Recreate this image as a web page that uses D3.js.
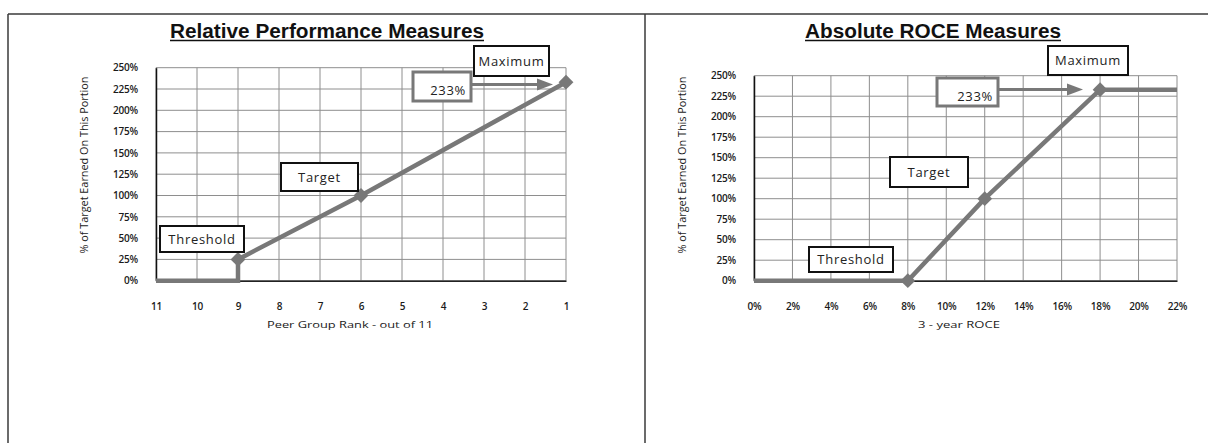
<!DOCTYPE html>
<html>
<head>
<meta charset="utf-8">
<script src="https://cdn.jsdelivr.net/npm/d3@7"></script>
<style>
  html, body { margin: 0; padding: 0; background: #fff; }
  svg { display: block; }
</style>
</head>
<body>
<svg id="chart" width="1208" height="443"></svg>
<script>
// Payout curves: % of target earned vs. performance outcome
const yTicks = [0, 25, 50, 75, 100, 125, 150, 175, 200, 225, 250];

// Relative performance: peer group rank (11 = worst, 1 = best)
const rankTicks = [11, 10, 9, 8, 7, 6, 5, 4, 3, 2, 1];
const relRank = [11, 9, 9, 6, 1];
const relPct = [0, 0, 25, 100, 233];
const relMarkerRank = [9, 6, 1];
const relMarkerPct = [25, 100, 233];

// Absolute ROCE: 3-year ROCE in percent
const roceTicks = [0, 2, 4, 6, 8, 10, 12, 14, 16, 18, 20, 22];
const roceVal = [0, 8, 12, 18, 22];
const rocePct = [0, 0, 100, 233, 233];
const roceMarkerVal = [8, 12, 18];
const roceMarkerPct = [0, 100, 233];

const maxLabel = "233%";

const svg = d3.select("#chart");
const LINE = "#787878";
const GRID = "#8e8e8e";
const TXT = "#1a1a1a";

// page frame
svg.append("line").attr("x1", 8).attr("x2", 1208).attr("y1", 14).attr("y2", 14)
  .attr("stroke", "#3a3a3a").attr("stroke-width", 1.5);
svg.append("line").attr("x1", 8).attr("x2", 8).attr("y1", 14).attr("y2", 443)
  .attr("stroke", "#3a3a3a").attr("stroke-width", 1.5);
svg.append("line").attr("x1", 645).attr("x2", 645).attr("y1", 14).attr("y2", 443)
  .attr("stroke", "#3a3a3a").attr("stroke-width", 1.5);

function panel(cfg) {
  const g = svg.append("g");
  const x = d3.scaleLinear().domain(cfg.xDomain).range(cfg.xRange);
  const y = d3.scaleLinear().domain([0, 250]).range(cfg.yRange);
  const [x0, x1] = cfg.xRange;
  const [yb, yt] = cfg.yRange;

  // title with underline
  g.append("text")
    .attr("x", (cfg.titleX[0] + cfg.titleX[1]) / 2).attr("y", 37.5)
    .attr("text-anchor", "middle")
    .attr("font-family", "'Liberation Sans Narrow', 'Liberation Sans', Arial, sans-serif")
    .attr("font-weight", "bold").attr("font-size", 20).attr("fill", "#111")
    .attr("textLength", cfg.titleX[1] - cfg.titleX[0])
    .attr("lengthAdjust", "spacingAndGlyphs")
    .text(cfg.title);
  g.append("line").attr("x1", cfg.titleX[0]).attr("x2", cfg.titleX[1])
    .attr("y1", 40.5).attr("y2", 40.5).attr("stroke", "#111").attr("stroke-width", 1.3);

  // grid
  g.append("g").selectAll("line.h").data(yTicks).join("line")
    .attr("x1", x0).attr("x2", x1)
    .attr("y1", d => y(d)).attr("y2", d => y(d))
    .attr("stroke", GRID).attr("stroke-width", 1);
  g.append("g").selectAll("line.v").data(cfg.xTicks).join("line")
    .attr("x1", d => x(d)).attr("x2", d => x(d))
    .attr("y1", yt).attr("y2", yb)
    .attr("stroke", GRID).attr("stroke-width", 1);

  // axes
  const yAxis = d3.axisLeft(y).tickValues(yTicks).tickSize(0).tickPadding(18)
    .tickFormat(d => d + "%");
  const ya = g.append("g").attr("transform", `translate(${x0},0)`).call(yAxis);
  ya.select(".domain").attr("stroke", "#111").attr("stroke-width", 1.5);
  ya.selectAll("text").attr("font-family", "'Open Sans', sans-serif")
    .attr("font-size", 10).attr("font-weight", 600).attr("letter-spacing", -0.2).attr("fill", TXT);

  const xAxis = d3.axisBottom(x).tickValues(cfg.xTicks).tickSize(0).tickPadding(22)
    .tickFormat(cfg.xFormat);
  const xa = g.append("g").attr("transform", `translate(0,${yb})`).call(xAxis);
  xa.select(".domain").attr("stroke", "#222").attr("stroke-width", 1.5);
  xa.selectAll("text").attr("font-family", "'Open Sans', sans-serif")
    .attr("font-size", 10).attr("font-weight", 600).attr("letter-spacing", -0.2).attr("fill", TXT);

  // axis titles
  g.append("text")
    .attr("transform", `translate(${cfg.yTitleX},165) rotate(-90)`)
    .attr("text-anchor", "middle").attr("dy", "0.35em")
    .attr("font-family", "'Open Sans', sans-serif").attr("font-size", 10).attr("fill", TXT)
    .attr("textLength", 177).attr("lengthAdjust", "spacingAndGlyphs")
    .text("% of Target Earned On This Portion");
  g.append("text")
    .attr("x", cfg.xTitle[0]).attr("y", 328).attr("text-anchor", "middle")
    .attr("font-family", "'Open Sans', sans-serif").attr("font-size", 9.5).attr("fill", TXT)
    .attr("textLength", cfg.xTitle[1]).attr("lengthAdjust", "spacingAndGlyphs")
    .text(cfg.xTitleText);

  // payout line
  const pts = cfg.lx.map((v, i) => [v, cfg.ly[i]]);
  g.append("path").datum(pts)
    .attr("d", d3.line().x(d => x(d[0])).y(d => y(d[1])))
    .attr("fill", "none").attr("stroke", LINE).attr("stroke-width", 4.5)
    .attr("stroke-linejoin", "miter");

  // diamond markers
  const mk = cfg.mx.map((v, i) => [v, cfg.my[i]]);
  g.append("g").selectAll("path").data(mk).join("path")
    .attr("transform", d => `translate(${x(d[0])},${y(d[1])}) rotate(45)`)
    .attr("d", d3.symbol(d3.symbolSquare, 110)())
    .attr("fill", LINE);

  // callout boxes
  function box(b, label, border, sw, anchor) {
    g.append("rect").attr("x", b[0]).attr("y", b[1])
      .attr("width", b[2] - b[0]).attr("height", b[3] - b[1])
      .attr("fill", "#fff").attr("stroke", border).attr("stroke-width", sw);
    const tx = anchor === "end" ? b[2] - 5 : (b[0] + b[2]) / 2;
    g.append("text").attr("x", tx).attr("y", (b[1] + b[3]) / 2 + (anchor === "end" ? 4 : 0))
      .attr("dy", "0.35em").attr("text-anchor", anchor || "middle")
      .attr("font-family", "'Open Sans', sans-serif").attr("font-size", 13)
      .attr("letter-spacing", 0.7).attr("fill", "#222").text(label);
  }

  // arrow from the value box to the maximum point
  const ay = cfg.arrowY;
  g.append("line").attr("x1", cfg.valBox[2]).attr("x2", cfg.arrowTip - 14)
    .attr("y1", ay).attr("y2", ay).attr("stroke", LINE).attr("stroke-width", 3);
  g.append("path")
    .attr("d", `M${cfg.arrowTip},${ay} L${cfg.arrowTip - 16},${ay - 6} L${cfg.arrowTip - 16},${ay + 6} Z`)
    .attr("fill", LINE);

  box(cfg.maxBox, "Maximum", "#111", 2);
  box(cfg.valBox, maxLabel, LINE, 3, "end");
  box(cfg.tgtBox, "Target", "#111", 2);
  box(cfg.thrBox, "Threshold", "#111", 2);
}

panel({
  title: "Relative Performance Measures",
  titleX: [170, 484],
  xDomain: [11, 1], xRange: [156, 566], yRange: [280.7, 67.7],
  xTicks: rankTicks, xFormat: d => d,
  yTitleX: 84,
  xTitle: [350, 166], xTitleText: "Peer Group Rank - out of 11",
  lx: relRank, ly: relPct, mx: relMarkerRank, my: relMarkerPct,
  maxBox: [474, 46, 549, 76],
  valBox: [413, 72, 471, 101],
  arrowY: 84.5, arrowTip: 553,
  tgtBox: [281, 163, 358, 191],
  thrBox: [160, 226, 244, 252]
});

panel({
  title: "Absolute ROCE Measures",
  titleX: [805, 1061],
  xDomain: [0, 22], xRange: [754, 1177], yRange: [280.7, 75.7],
  xTicks: roceTicks, xFormat: d => d + "%",
  yTitleX: 682,
  xTitle: [959, 82], xTitleText: "3 - year ROCE",
  lx: roceVal, ly: rocePct, mx: roceMarkerVal, my: roceMarkerPct,
  maxBox: [1048, 46, 1128, 75],
  valBox: [937, 78, 998, 106],
  arrowY: 89.5, arrowTip: 1083,
  tgtBox: [890, 157, 968, 187],
  thrBox: [809, 247, 893, 272]
});
</script>
</body>
</html>
